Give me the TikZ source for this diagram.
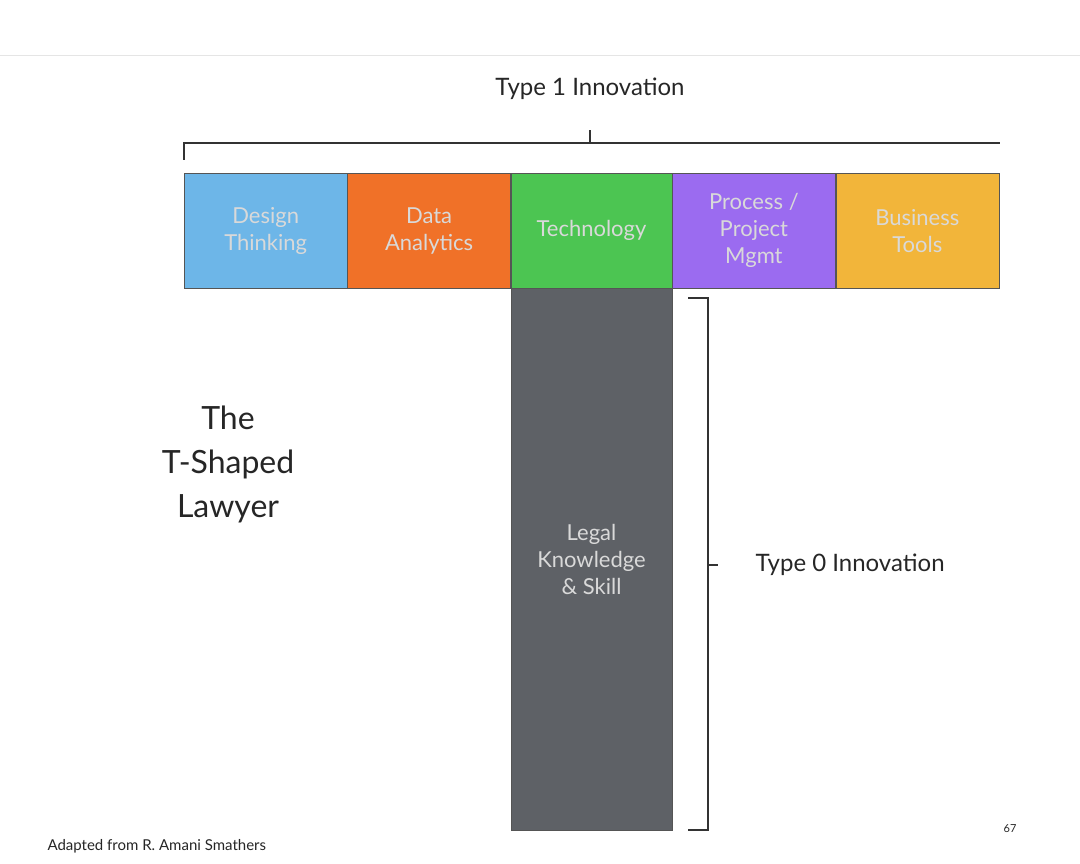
\documentclass[tikz,border=0pt]{standalone}
\usepackage{fontspec}
\setmainfont{Lato}
\usetikzlibrary{positioning}
\definecolor{dtblue}{HTML}{6DB6E8}
\definecolor{daorange}{HTML}{F07128}
\definecolor{tegreen}{HTML}{4CC552}
\definecolor{pmpurple}{HTML}{9B6BF0}
\definecolor{btyellow}{HTML}{F2B53A}
\definecolor{stemgray}{HTML}{5E6166}
\definecolor{edgegray}{HTML}{555555}
\begin{document}
\begin{tikzpicture}[x=1pt,y=-1pt,
    cell/.style={rectangle, draw=edgegray, thin, align=center,
      minimum width=163pt, minimum height=115pt, inner sep=0pt,
      font=\fontsize{22}{27}\selectfont, text=white!85!black},
    label/.style={align=center, text=black!85},
    brace/.style={draw=black!80, line width=1.6pt}
  ]
  \useasboundingbox (0,0) rectangle (1080,864);
  \draw[black!10] (0,55) -- (1080,55);

  % --- top row of the T ---
  \node[cell, fill=dtblue, anchor=north west] (design) at (184,173) {Design\\Thinking};
  \node[cell, fill=daorange, right=0pt of design] (data) {Data\\Analytics};
  \node[cell, fill=tegreen, right=0pt of data, minimum width=161pt] (tech) {Technology};
  \node[cell, fill=pmpurple, right=0pt of tech] (process) {Process /\\Project\\Mgmt};
  \node[cell, fill=btyellow, right=0pt of process] (business) {Business\\Tools};

  % --- stem of the T ---
  \node[cell, fill=stemgray, below=0pt of tech, minimum width=161pt, minimum height=542pt] (legal) {Legal\\Knowledge\\\& Skill};

  % --- brackets ---
  \draw[brace] (184,160) -- (184,143) -- (1000,143);
  \draw[brace] (590,143) -- (590,130);
  \draw[brace] (688,298) -- (708,298) -- (708,830) -- (688,830);
  \draw[brace] (708,565) -- (718,565);

  % --- labels ---
  \node[label, font=\fontsize{24}{28}\selectfont] (type1) at (590,89) {Type 1 Innovation};
  \node[label, font=\fontsize{24}{28}\selectfont, anchor=west] (type0) at (752,565) {Type 0 Innovation};
  \node[label, font=\fontsize{32}{44}\selectfont] (title) at (228,464) {The\\T-Shaped\\Lawyer};
  \node[label, font=\fontsize{15}{18}\selectfont, anchor=west] (credit) at (44,846) {Adapted from R. Amani Smathers};
  \node[label, font=\fontsize{11}{13}\selectfont] (page) at (1010,829) {67};
\end{tikzpicture}
\end{document}
